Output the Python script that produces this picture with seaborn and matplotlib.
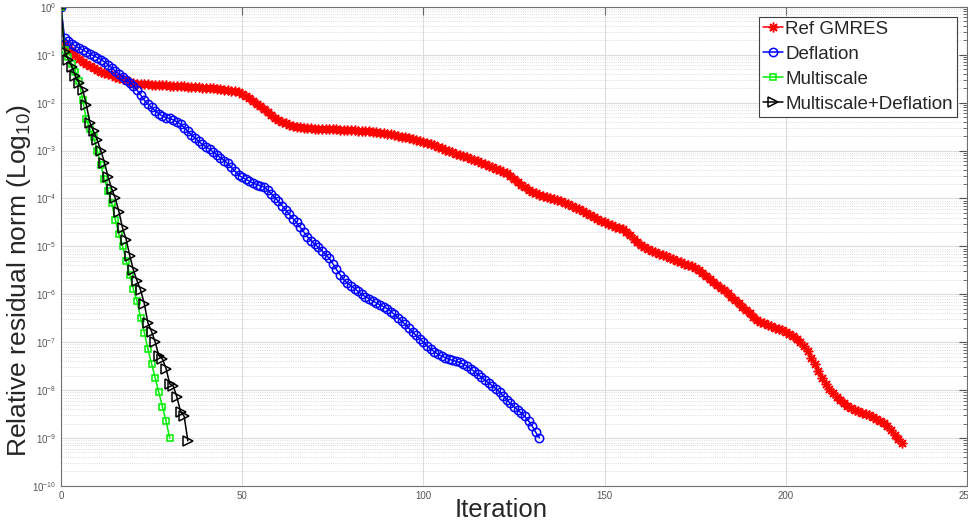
import numpy as np
import pandas as pd
import seaborn as sns
import matplotlib.pyplot as plt
from matplotlib.ticker import LogLocator, NullFormatter, MultipleLocator

# log10 of the relative residual at each iteration
ref_gmres_log = [
    0.00, -0.78, -0.85, -0.93, -1.00, -1.08, -1.15, -1.20, -1.24, -1.28,
    -1.32, -1.35, -1.38, -1.41, -1.43, -1.46, -1.48, -1.50, -1.53, -1.56,
    -1.59, -1.61, -1.62, -1.62, -1.62, -1.63, -1.63, -1.63, -1.64, -1.64,
    -1.65, -1.65, -1.65, -1.66, -1.66, -1.67, -1.67, -1.68, -1.68, -1.69,
    -1.69, -1.70, -1.70, -1.71, -1.72, -1.73, -1.74, -1.75, -1.76, -1.78,
    -1.82, -1.86, -1.90, -1.96, -2.02, -2.08, -2.14, -2.20, -2.26, -2.31,
    -2.36, -2.40, -2.43, -2.46, -2.48, -2.50, -2.51, -2.52, -2.53, -2.53,
    -2.54, -2.54, -2.55, -2.55, -2.56, -2.56, -2.56, -2.57, -2.57, -2.58,
    -2.58, -2.58, -2.59, -2.59, -2.60, -2.60, -2.61, -2.62, -2.63, -2.64,
    -2.65, -2.66, -2.68, -2.69, -2.71, -2.72, -2.74, -2.76, -2.78, -2.80,
    -2.82, -2.84, -2.86, -2.89, -2.92, -2.95, -2.98, -3.01, -3.04, -3.07,
    -3.10, -3.12, -3.14, -3.17, -3.19, -3.22, -3.25, -3.28, -3.32, -3.35,
    -3.38, -3.41, -3.44, -3.47, -3.53, -3.59, -3.65, -3.71, -3.77, -3.82,
    -3.86, -3.89, -3.92, -3.95, -3.97, -3.99, -4.01, -4.04, -4.06, -4.09,
    -4.12, -4.15, -4.19, -4.23, -4.27, -4.31, -4.35, -4.39, -4.43, -4.47,
    -4.50, -4.53, -4.56, -4.59, -4.62, -4.64, -4.70, -4.77, -4.84, -4.91,
    -4.98, -5.02, -5.06, -5.09, -5.12, -5.15, -5.18, -5.21, -5.24, -5.27,
    -5.30, -5.33, -5.36, -5.39, -5.42, -5.46, -5.50, -5.55, -5.62, -5.68,
    -5.74, -5.80, -5.86, -5.92, -5.98, -6.05, -6.12, -6.19, -6.26, -6.33,
    -6.40, -6.47, -6.53, -6.57, -6.61, -6.64, -6.67, -6.70, -6.73, -6.75,
    -6.78, -6.82, -6.87, -6.93, -7.00, -7.08, -7.18, -7.32, -7.46, -7.60,
    -7.74, -7.87, -7.98, -8.06, -8.14, -8.21, -8.27, -8.33, -8.37, -8.41,
    -8.44, -8.47, -8.50, -8.53, -8.56, -8.60, -8.64, -8.69, -8.76, -8.84,
    -8.93, -9.02, -9.10,
]

deflation_log = [
    0.00, -0.66, -0.72, -0.77, -0.82, -0.86, -0.90, -0.94, -0.98, -1.02,
    -1.06, -1.10, -1.15, -1.21, -1.27, -1.34, -1.40, -1.46, -1.52, -1.58,
    -1.65, -1.74, -1.84, -1.95, -2.03, -2.10, -2.17, -2.23, -2.28, -2.31,
    -2.33, -2.36, -2.40, -2.45, -2.52, -2.60, -2.67, -2.74, -2.81, -2.87,
    -2.92, -2.97, -3.03, -3.09, -3.15, -3.21, -3.27, -3.35, -3.43, -3.51,
    -3.56, -3.60, -3.64, -3.68, -3.71, -3.73, -3.76, -3.82, -3.90, -3.98,
    -4.06, -4.15, -4.24, -4.33, -4.42, -4.50, -4.60, -4.70, -4.80, -4.88,
    -4.95, -5.02, -5.09, -5.17, -5.25, -5.36, -5.48, -5.59, -5.69, -5.77,
    -5.82, -5.88, -5.94, -6.00, -6.05, -6.09, -6.14, -6.18, -6.22, -6.26,
    -6.30, -6.36, -6.42, -6.49, -6.56, -6.63, -6.71, -6.79, -6.86, -6.93,
    -7.00, -7.08, -7.14, -7.20, -7.25, -7.29, -7.32, -7.35, -7.38, -7.40,
    -7.42, -7.46, -7.50, -7.55, -7.61, -7.67, -7.73, -7.79, -7.85, -7.91,
    -7.97, -8.04, -8.12, -8.20, -8.28, -8.35, -8.41, -8.48, -8.55, -8.64,
    -8.75, -8.88, -9.00,
]

multiscale_log = [
    0.00, -0.90, -1.05, -1.20, -1.35, -1.55, -1.95, -2.35, -2.55, -2.72,
    -3.00, -3.30, -3.60, -3.85, -4.10, -4.45, -4.75, -5.00, -5.30, -5.60,
    -5.90, -6.15, -6.50, -6.80, -7.15, -7.45, -7.75, -8.05, -8.35, -8.65,
    -9.00,
]

multiscale_defl_log = [
    0.00, -0.94, -1.10, -1.25, -1.45, -1.60, -1.73, -2.05, -2.42, -2.60,
    -2.78, -3.00, -3.25, -3.55, -3.80, -4.00, -4.28, -4.62, -4.86, -5.20,
    -5.50, -5.72, -5.92, -6.20, -6.60, -6.78, -7.00, -7.28, -7.35, -7.55,
    -7.87, -7.92, -8.15, -8.45, -8.55, -9.06,
]

# name, values, colour, marker, marker size (MATLAB-like asterisk for GMRES)
series = [
    ("Ref GMRES", ref_gmres_log, "#ff0000", (8, 2, 0), 7),
    ("Deflation", deflation_log, "#0000ff", "o", 6),
    ("Multiscale", multiscale_log, "#00ee00", "s", 4.8),
    ("Multiscale+Deflation", multiscale_defl_log, "#000000", ">", 6.5),
]

sns.set_style("white")
plt.rcParams["font.family"] = ["Liberation Sans", "DejaVu Sans"]
plt.rcParams["mathtext.default"] = "regular"

fig = plt.figure(figsize=(9.68, 5.27), dpi=100)
ax = fig.add_axes([0.063, 0.078, 0.936, 0.909])

for name, vals, color, marker, msize in series:
    df = pd.DataFrame({"Iteration": np.arange(len(vals)),
                       "Residual": 10.0 ** np.array(vals)})
    sns.lineplot(data=df, x="Iteration", y="Residual", ax=ax,
                 estimator=None, sort=False, color=color, linewidth=1.1,
                 marker=marker, markersize=msize, markerfacecolor="none",
                 markeredgecolor=color, markeredgewidth=1.1, label=name)

ax.set_yscale("log")
ax.set_xlim(0, 250)
ax.set_ylim(1e-10, 1.0)
ax.xaxis.set_major_locator(MultipleLocator(50))
ax.yaxis.set_major_locator(LogLocator(base=10, numticks=20))
ax.yaxis.set_minor_locator(LogLocator(base=10, subs=np.arange(2, 10), numticks=20))
ax.yaxis.set_minor_formatter(NullFormatter())

ax.grid(True, which="major", axis="both", color="#dcdcdc", linewidth=0.8)
ax.grid(True, which="minor", axis="y", color="#d0d0d0", linestyle=":", linewidth=0.6)

ax.tick_params(which="both", direction="in", top=True, right=True,
               colors="#555555", labelsize=7, labelcolor="#555555")
ax.tick_params(which="major", length=6)
ax.tick_params(which="minor", length=3)
for s in ax.spines.values():
    s.set_color("#707070")
    s.set_linewidth(0.8)

ax.set_xlabel("Iteration", fontsize=18.5)
ax.set_ylabel("Relative residual norm (Log$_{10}$)", fontsize=19)
ax.xaxis.set_label_coords(0.486, -0.025)
ax.yaxis.set_label_coords(-0.031, 0.43)

leg = ax.legend(loc="upper right", fontsize=13.5, frameon=True, fancybox=False,
                edgecolor="#404040", framealpha=1, borderpad=0.2,
                labelspacing=0.42, handlelength=1.1, handletextpad=0.1,
                borderaxespad=0.55)
leg.get_frame().set_linewidth(0.8)

fig.savefig("out.png", dpi=100)
